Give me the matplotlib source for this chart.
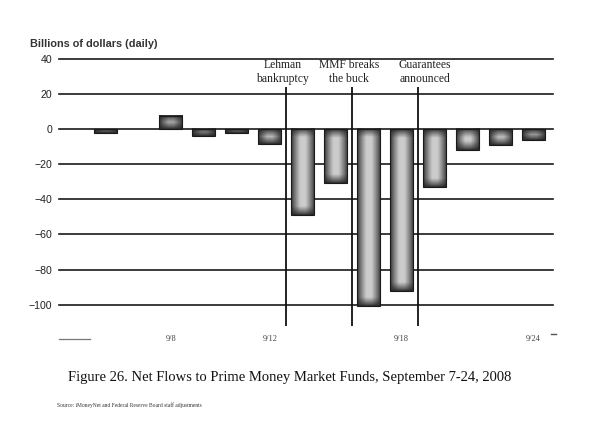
import numpy as np
import matplotlib
matplotlib.use("Agg")
import matplotlib.pyplot as plt
from matplotlib.lines import Line2D

# ---------------- data ----------------
# business-day slots; NaN = no bar drawn
slot_values = [np.nan, -2, np.nan, 7.5, -4, -2, -8.5, -49, -30.5, -101, -92, -33, -12, -9, -6]
tick_slots = [3, 6, 10, 14]
tick_labels = ["9/8", "9/12", "9/18", "9/24"]
y_ticks = [40, 20, 0, -20, -40, -60, -80, -100]
event_slots = [6.5, 8.5, 10.5]
event_labels = ["Lehman\nbankruptcy", "MMF breaks\nthe buck", "Guarantees\nannounced"]
event_text_shift = [-0.1, -0.1, 0.2]
y_label = "Billions of dollars (daily)"
caption = "Figure 26. Net Flows to Prime Money Market Funds, September 7-24, 2008"
source = "Source: iMoneyNet and Federal Reserve Board staff adjustments"

# ---------------- figure ----------------
W, H, DPI = 610, 422, 100
fig = plt.figure(figsize=(W / DPI, H / DPI), dpi=DPI)
fig.patch.set_facecolor("white")

ylo, yhi = -115, 40.5
x_left_px, x_right_px = 59, 553
y_top_px, y_bot_px = 58, 331
ax = fig.add_axes([x_left_px / W, 1 - y_bot_px / H,
                   (x_right_px - x_left_px) / W, (y_bot_px - y_top_px) / H])
ax.set_xlim(-0.4, 14.6)
ax.set_ylim(ylo, yhi)
for s in ax.spines.values():
    s.set_visible(False)

# horizontal grid lines
for yv in y_ticks:
    ax.axhline(yv, color="#1a1a1a", lw=1.2, zorder=1, clip_on=False)

# bars with shaded gradient
bar_w = 0.7
px_per_x = (x_right_px - x_left_px) / 15.0
px_per_y = (y_bot_px - y_top_px) / (yhi - ylo)
for i, v in enumerate(slot_values):
    if np.isnan(v):
        continue
    x0, x1 = i - bar_w / 2, i + bar_w / 2
    y0, y1 = min(0, v), max(0, v)
    nx = max(int(round(bar_w * px_per_x)), 2)
    ny = max(int(round((y1 - y0) * px_per_y)), 2)
    xx = np.arange(nx) + 0.5
    yy = np.arange(ny) + 0.5
    dx = np.minimum(xx, nx - xx)
    dy = np.minimum(yy, ny - yy)
    sx = np.clip(dx / 9.0, 0, 1) ** 0.8
    sy = np.clip(dy / 9.0, 0, 1) ** 0.8
    shade = 0.15 + 0.65 * np.outer(sy, sx)
    ax.imshow(shade, cmap="gray", vmin=0, vmax=1, extent=(x0, x1, y0, y1),
              aspect="auto", interpolation="bilinear", zorder=3)
    ax.add_patch(plt.Rectangle((x0, y0), bar_w, y1 - y0, fill=False,
                               edgecolor="#1a1a1a", lw=0.8, zorder=4))

# event lines and labels
for xs, lab, sh in zip(event_slots, event_labels, event_text_shift):
    ax.vlines(xs, -112, 24, color="#111111", lw=1.3, zorder=5)
    ax.text(xs + sh, 32.4, lab, ha="center", va="center", fontsize=8.4,
            family="Liberation Serif", color="#222222", linespacing=1.28, zorder=6)

# ticks
ax.set_yticks(y_ticks)
ax.set_yticklabels([f"{t}".replace("-", "\u2212") for t in y_ticks],
                   fontsize=7.6, family="Liberation Sans", color="#222222")
ax.tick_params(axis="y", length=0, pad=5)
ax.set_xticks(tick_slots)
ax.set_xticklabels(tick_labels, fontsize=6, family="Liberation Serif", color="#444444")
ax.tick_params(axis="x", length=0, pad=3)

# decorations
fig.text(30 / W, 1 - 44 / H, y_label, ha="left", va="center", fontsize=7.8,
         family="Liberation Sans", weight="bold", color="#333333")
fig.add_artist(Line2D([59 / W, 90 / W], [1 - 339 / H, 1 - 339 / H], color="#777777", lw=0.9))
fig.add_artist(Line2D([551 / W, 556 / W], [1 - 334 / H, 1 - 334 / H], color="#555555", lw=1.0))
fig.text(68 / W, 1 - 377 / H, caption, ha="left", va="center", fontsize=10.5,
         family="Liberation Serif", color="#111111")
fig.text(57 / W, 1 - 405 / H, source, ha="left", va="center", fontsize=4.0,
         family="Liberation Serif", color="#333333")

fig.savefig("out.png", dpi=DPI, facecolor="white")
